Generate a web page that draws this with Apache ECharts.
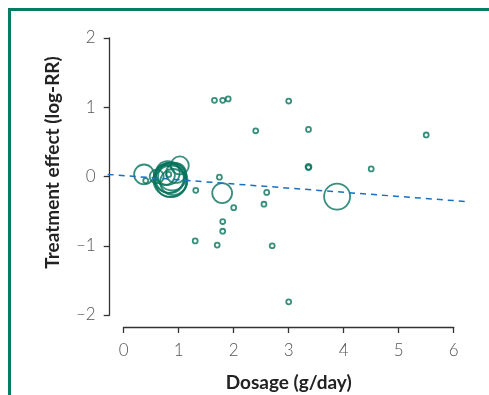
<!DOCTYPE html>
<html>
<head>
<meta charset="utf-8">
<script src="https://cdn.jsdelivr.net/npm/echarts@6/dist/echarts.min.js"></script>
<style>
  html, body { margin: 0; padding: 0; background: #fff; }
  #frame {
    position: absolute; left: 8px; top: 8px; width: 490px; height: 400px;
    border-top: 3px solid #0b7a63; border-left: 3px solid #0b7a63;
  }
  #chart { position: absolute; left: 0; top: 0; width: 489px; height: 395px; }
</style>
</head>
<body>
<div id="frame"></div>
<div id="chart"></div>
<script>
// study dosage (g/day), effect (log-RR), weight
const dosage = [0.37, 0.40, 0.60, 0.75, 0.80, 0.82, 0.85, 0.88, 0.90, 0.95, 1.02, 0.82,
  0.86, 0.84,
  1.31, 1.30, 1.65, 1.70, 1.74, 1.79, 1.80, 1.80, 1.80, 1.90, 2.00, 2.40, 2.55, 2.60,
  2.70, 3.00, 3.00, 3.36, 3.36, 3.36, 3.88, 4.50, 5.50];
const effect = [0.03, -0.06, 0.00, 0.02, 0.05, -0.02, -0.05, 0.00, -0.08, 0.05, 0.16, 0.03,
  -0.07, -0.03,
  -0.20, -0.93, 1.10, -0.99, -0.01, -0.24, 1.10, -0.65, -0.79, 1.12, -0.45, 0.66, -0.40, -0.23,
  -1.00, 1.09, -1.81, 0.68, 0.14, 0.13, -0.29, 0.11, 0.60];
const weight = [28, 0.1, 11, 28, 44, 75, 100, 64, 54, 28, 22, 0.1,
  85, 70,
  0.1, 0.1, 0.1, 0.1, 0.1, 28, 0.1, 0.1, 0.1, 0.1, 0.1, 0.1, 0.1, 0.1,
  0.1, 0.1, 0.1, 0.1, 0.4, 0.1, 54, 0.1, 0.1];

// meta-regression line endpoints
const fitX = [-0.29, 6.2];
const fitY = [0.03, -0.36];

const xTicks = [0, 1, 2, 3, 4, 5, 6];
const yTicks = [-2, -1, 0, 1, 2];

const W = 489, H = 395;
const G = { left: 123.7, right: 35.3, top: 38, bottom: 80, outerBoundsMode: 'none' };
const xMin = xTicks[0], xMax = xTicks[xTicks.length - 1];
const pxPerUnit = (W - G.left - G.right) / (xMax - xMin);
// second grid sharing the same scale, wide enough for the fit line
const G2 = {
  left: G.left + (fitX[0] - xMin) * pxPerUnit,
  right: G.right - (fitX[1] - xMax) * pxPerUnit,
  top: G.top, bottom: G.bottom, outerBoundsMode: 'none'
};

const chart = echarts.init(document.getElementById('chart'));
const labelFont = { fontFamily: 'Lato', fontWeight: 300, fontSize: 17, color: '#555' };
const nameFont = { fontFamily: 'Lato', fontWeight: 'bold', fontSize: 19, color: '#222' };
const axisCol = { color: '#333', width: 1.3 };

chart.setOption({
  animation: false,
  grid: [G, G2],
  xAxis: [{
    type: 'value',
    min: xMin, max: xMax, interval: 1,
    offset: 12,
    splitLine: { show: false },
    axisLine: { onZero: false, lineStyle: axisCol },
    axisTick: { length: 6, lineStyle: axisCol },
    axisLabel: Object.assign({ margin: 15 }, labelFont),
    name: 'Dosage (g/day)',
    nameLocation: 'middle',
    nameGap: 46,
    nameTextStyle: nameFont
  }, {
    type: 'value', gridIndex: 1, min: fitX[0], max: fitX[1], show: false
  }],
  yAxis: [{
    type: 'value',
    min: yTicks[0], max: yTicks[yTicks.length - 1], interval: 1,
    offset: 14,
    splitLine: { show: false },
    axisLine: { show: true, onZero: false, lineStyle: axisCol },
    axisTick: { show: true, length: 6, lineStyle: axisCol },
    axisLabel: Object.assign({ margin: 14, formatter: v => String(v).replace('-', '\u2013') }, labelFont),
    name: 'Treatment effect (log-RR)',
    nameLocation: 'middle',
    nameGap: 47,
    nameTextStyle: Object.assign({ padding: [0, 0, 0, 28] }, nameFont)
  }, {
    type: 'value', gridIndex: 1, min: yTicks[0], max: yTicks[yTicks.length - 1], show: false
  }],
  series: [
    {
      type: 'scatter',
      data: dosage.map((d, i) => [d, effect[i], weight[i]]),
      symbol: 'circle',
      symbolSize: v => 4 + 3 * Math.sqrt(v[2]),
      itemStyle: { color: 'rgba(0,0,0,0)', borderColor: '#07735c', borderWidth: 1.8 },
      z: 2
    },
    {
      type: 'line',
      xAxisIndex: 1, yAxisIndex: 1,
      data: fitX.map((x, i) => [x, fitY[i]]),
      symbol: 'none',
      lineStyle: { color: '#1a6fc0', width: 1.5, type: [6, 5] },
      z: 3
    }
  ]
});
</script>
</body>
</html>
